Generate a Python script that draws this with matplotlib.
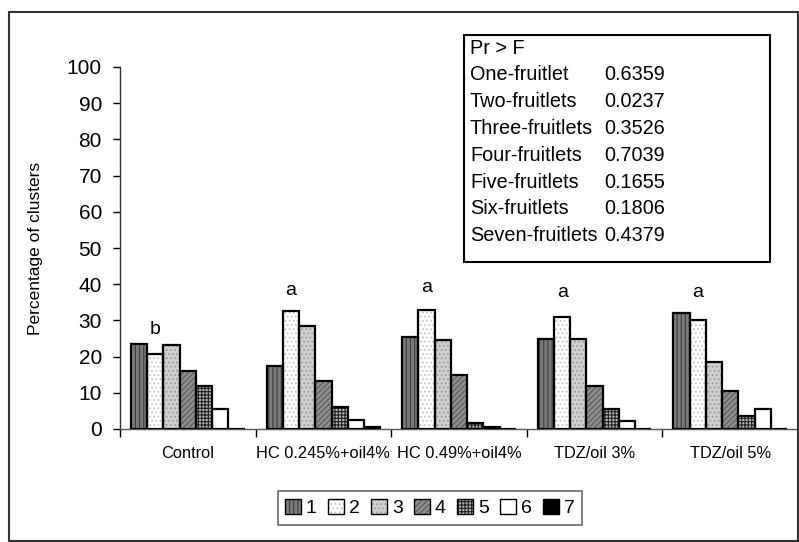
import matplotlib
matplotlib.use("Agg")
import matplotlib.pyplot as plt
from matplotlib.patches import Rectangle, Patch
import numpy as np

plt.rcParams['font.family'] = ['Liberation Sans', 'DejaVu Sans']
plt.rcParams['hatch.linewidth'] = 0.8

categories = ["Control", "HC 0.245%+oil4%", "HC 0.49%+oil4%", "TDZ/oil 3%", "TDZ/oil 5%"]
series_names = ["1", "2", "3", "4", "5", "6", "7"]
s1 = [23.5, 17.3, 25.5, 25.0, 32.0]
s2 = [20.7, 32.6, 33.0, 31.0, 30.0]
s3 = [23.2, 28.5, 24.6, 25.0, 18.4]
s4 = [15.9, 13.3, 14.9, 11.9, 10.4]
s5 = [11.9, 6.1, 1.6, 5.5, 3.6]
s6 = [5.5, 2.6, 0.6, 2.1, 5.5]
s7 = [0.0, 0.6, 0.0, 0.0, 0.0]
series = [s1, s2, s3, s4, s5, s6, s7]
letters = ["b", "a", "a", "a", "a"]
letter_y = [27.4, 38.2, 39.0, 37.6, 37.8]
table_names = ["One-fruitlet", "Two-fruitlets", "Three-fruitlets", "Four-fruitlets",
               "Five-fruitlets", "Six-fruitlets", "Seven-fruitlets"]
table_values = ["0.6359", "0.0237", "0.3526", "0.7039", "0.1655", "0.1806", "0.4379"]

styles = [
    dict(face="#7c7c7c", hatch="||||", hc="#3c3c3c"),
    dict(face="#ffffff", hatch="....", hc="#c4c4c4"),
    dict(face="#cfcfcf", hatch="....", hc="#9a9a9a"),
    dict(face="#8e8e8e", hatch="//////", hc="#5a5a5a"),
    dict(face="#b4b4b4", hatch="+++++", hc="#202020"),
    dict(face="#ffffff", hatch=None, hc="#000000"),
    dict(face="#000000", hatch=None, hc="#000000"),
]

W, H = 799, 542
fig = plt.figure(figsize=(W / 100, H / 100), dpi=100)

def fx(x):
    return x / W

def fy(y):
    return 1 - y / H

ax = fig.add_axes([fx(120), fy(429), fx(798) - fx(120), (429 - 67) / H])

n = len(categories)
bw = 0.1195
x = np.arange(n)
handles = []
for i, (vals, st) in enumerate(zip(series, styles)):
    pos = x + (i - 3) * bw
    if st["hatch"]:
        ax.bar(pos, vals, bw, color=st["face"], edgecolor=st["hc"], hatch=st["hatch"],
               linewidth=0, zorder=2)
    else:
        ax.bar(pos, vals, bw, color=st["face"], linewidth=0, zorder=2)
    ax.bar(pos, vals, bw, facecolor="none", edgecolor="black", linewidth=1.6, zorder=3)
    h1 = Patch(facecolor=st["face"], edgecolor=st["hc"], hatch=st["hatch"], linewidth=0)
    h2 = Patch(facecolor="none", edgecolor="black", linewidth=1.0)
    handles.append((h1, h2))

for i, (lt, ly) in enumerate(zip(letters, letter_y)):
    ax.text(x[i] - 2 * bw, ly, lt, ha="center", va="center", fontsize=14)

ax.set_xlim(-0.5, n - 0.5)
ax.set_ylim(0, 100)
ax.set_yticks(np.arange(0, 101, 10))
ax.tick_params(axis="y", labelsize=15, length=5, width=1, pad=8, direction="out")
ax.set_xticks(np.arange(-0.5, n, 1.0))
ax.set_xticklabels([])
ax.set_xticks(x, minor=True)
ax.set_xticklabels(categories, minor=True)
ax.tick_params(axis="x", which="major", length=6, width=1, direction="out")
ax.tick_params(axis="x", which="minor", length=0, labelsize=11.8, pad=12)
for s in ["top", "right"]:
    ax.spines[s].set_visible(False)
ax.spines["left"].set_linewidth(1)
ax.spines["bottom"].set_linewidth(1)
ax.spines["left"].set_color("#333333")
ax.spines["bottom"].set_color("#555555")
ax.set_ylabel("Percentage of clusters", fontsize=12.5)
ax.yaxis.set_label_coords(-(120 - 43) / (798 - 120), 0.5)

# outer frame
fig.patches.append(Rectangle((fx(9), fy(541)), fx(798) - fx(9), fy(12) - fy(541),
                             transform=fig.transFigure, fill=False, edgecolor="#333333",
                             linewidth=1.5))

# stats table box
fig.patches.append(Rectangle((fx(464), fy(262)), fx(770) - fx(464), fy(35) - fy(262),
                             transform=fig.transFigure, fill=True, facecolor="white",
                             edgecolor="black", linewidth=1.5, zorder=5))
fig.text(fx(470), fy(48), "Pr > F", fontsize=14.3, va="center", ha="left", zorder=6)
for i, (nm, v) in enumerate(zip(table_names, table_values)):
    yy = 48 + 26.8 * (i + 1)
    fig.text(fx(470), fy(yy), nm, fontsize=14.3, va="center", ha="left", zorder=6)
    fig.text(fx(604), fy(yy), v, fontsize=14.3, va="center", ha="left", zorder=6)

leg = fig.legend(handles, series_names, loc="center", bbox_to_anchor=(fx(430), fy(508)),
                 ncol=7, frameon=True, fancybox=False, edgecolor="#444444",
                 fontsize=14, handlelength=0.8, handleheight=0.8, handletextpad=0.25,
                 columnspacing=0.6, borderpad=0.4)
leg.get_frame().set_linewidth(1.2)

fig.savefig("out.png", dpi=100)
